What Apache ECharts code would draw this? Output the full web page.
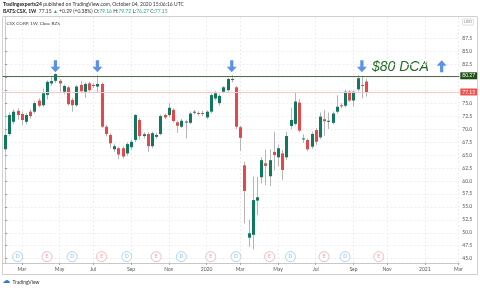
<!DOCTYPE html>
<html><head><meta charset="utf-8">
<script src="https://cdn.jsdelivr.net/npm/echarts@6/dist/echarts.min.js"></script>
<style>html,body{margin:0;padding:0;background:#fff}#c{width:480px;height:288px}</style>
</head><body><div id="c"></div>
<script>
// ---- data ----
const firstWeek = '2019-02-04';
const totalWeeks = 109; // axis runs through early March 2021
const opens = [66.1,69.05,71.4,73.5,72.9,71.4,73.35,73.35,75.5,74.6,76.6,78.8,79.3,79.3,77.2,78.05,75.6,74.6,78.5,77.2,78.8,78.5,78.2,78.7,70.45,68.85,66.1,66.3,66.3,65.3,66.5,67.9,71.75,68.65,69.05,66.7,68.5,69.05,72.7,72.7,73.7,71.3,70.45,71.3,71.2,73.15,73.1,73.1,72.25,73.35,75.9,75.0,77.2,77.5,79.45,78.05,70.35,63.0,49.05,49.6,56.2,60.7,63.4,60.9,65.6,64.55,65.3,64.55,70.6,71.0,75.1,68.0,67.9,66.6,69.8,68.4,71.9,71.4,71.2,73.35,74.6,74.5,77.2,75.5,77.65,78.5,79.16];
const closes = [68.85,72.7,73.35,72.7,71.75,72.7,72.5,75.0,74.5,76.9,79.1,79.25,80.6,78.8,78.3,74.8,74.6,78.2,77.3,78.7,77.5,78.3,78.7,70.45,69.05,67.25,66.7,65.1,64.7,67.1,67.55,72.7,68.65,69.0,66.7,69.2,68.85,72.5,72.25,74.1,71.55,70.65,71.6,71.45,73.0,73.35,72.9,72.95,73.35,76.55,76.9,76.4,78.05,79.65,79.65,70.45,68.3,58.05,49.9,56.3,56.85,64.0,62.9,64.0,65.0,66.3,62.1,68.65,71.75,75.3,69.7,68.2,66.1,69.05,67.55,72.4,71.5,71.6,73.0,74.3,74.4,77.2,75.5,77.2,79.8,78.3,77.15];
const lows = [65.6,68.7,70.9,71.8,70.8,70.9,72.0,73.0,74.2,74.3,75.7,78.3,78.9,77.2,76.7,74.5,73.35,74.3,77.0,76.0,77.2,77.9,77.0,70.2,68.6,66.3,65.6,64.2,64.3,64.8,66.0,67.5,68.0,68.2,65.6,66.3,68.1,68.8,71.9,72.3,71.2,69.3,70.2,68.2,70.9,72.8,72.6,72.5,71.9,73.0,75.5,74.5,76.9,77.2,79.0,70.0,65.8,51.8,47.3,46.8,53.4,59.5,59.2,59.0,62.0,62.8,60.2,64.0,70.0,70.7,69.4,67.3,65.7,66.2,66.9,68.1,68.7,70.0,70.9,73.0,74.0,74.2,75.2,74.3,77.3,75.9,76.27];
const highs = [69.2,73.2,73.8,74.0,73.4,73.1,73.8,75.4,75.9,77.8,79.4,80.0,80.75,79.6,78.6,78.3,76.0,78.5,79.3,79.0,79.1,78.8,80.4,79.0,70.8,69.2,67.2,66.6,66.7,67.4,68.0,72.9,72.1,69.4,69.4,69.5,69.3,72.8,73.0,75.0,74.0,71.6,72.0,71.8,73.4,73.7,73.4,73.5,73.6,76.9,77.3,76.8,78.3,79.9,80.4,78.3,70.6,63.7,52.5,60.8,60.8,64.6,66.0,66.1,69.5,67.0,66.0,69.5,74.1,77.0,75.8,69.0,68.2,69.5,70.2,73.2,73.7,73.2,73.4,76.5,75.0,77.6,77.5,77.4,80.4,80.3,79.72];
const priceTicks = [45,47.5,50,52.5,55,57.5,60,62.5,65,67.5,70,72.5,75,77.5,80,82.5,85,87.5];
const hiddenPriceLabels = [77.5,80]; // covered by the price tags
const monthNames = ['Jan','Feb','Mar','Apr','May','Jun','Jul','Aug','Sep','Oct','Nov','Dec'];
const dividendWeeks = [3,16,29,42,55,68,81];
const earningsWeeks = [10,23,36,49,63,76,89];
const arrowDownWeeks = [12,22,54,85];
const arrowUpWeeks = [104];
const arrowPrice = 82.1;
const dcaLevel = 80.27;
const lastClose = 77.15;

// ---- derived ----
const weeks = [];
{ const d0 = new Date(firstWeek + 'T00:00:00Z');
  for (let i = 0; i < totalWeeks; i++) weeks.push(new Date(d0.getTime() + i * 7 * 864e5)); }
const tickIdx = [], tickLab = {};
for (let i = 1; i < weeks.length; i++) {
  const m = weeks[i].getUTCMonth();
  if (m !== weeks[i-1].getUTCMonth() && m % 2 === 0) {
    tickIdx.push(i);
    tickLab[i] = m === 0 ? String(weeks[i].getUTCFullYear()) : monthNames[m];
  }
}
const candleData = opens.map((o, i) => [i, o, closes[i], lows[i], highs[i]]);
const labelTicks = priceTicks.filter(v => hiddenPriceLabels.indexOf(v) < 0);

const UP = '#10785e', DOWN = '#e5484a', WICK = '#b5b5b5', BLUE = '#2f77e2';
const Y_MIN = 44.17, Y_MAX = 91.61;
const markerPrice = Y_MIN + 1.22;
const arrowPath = 'path://M5,0 L10,5.5 L6.6,5.5 L6.6,12 L3.4,12 L3.4,5.5 L0,5.5 Z';

const chart = echarts.init(document.getElementById('c'), null, {renderer: 'canvas'});
const FONT = 'Lato, "Noto Sans", sans-serif';
const HF = 5.0;

chart.setOption({
  animation: false,
  backgroundColor: '#fff',
  grid: {left: 2.5, right: 20.7, top: 17, bottom: 25, containLabel: false},
  xAxis: {
    type: 'value', min: -0.6, max: totalWeeks - 0.8,
    axisLine: {show: true, lineStyle: {color: '#c8c8c8', width: 1}},
    axisTick: {show: true, customValues: tickIdx, length: 2, lineStyle: {color: '#aaa'}},
    axisLabel: {customValues: tickIdx, formatter: v => tickLab[v] || '', fontSize: 5, color: '#555', margin: 4, fontFamily: FONT},
    splitLine: {show: true, lineStyle: {color: '#ececec', type: [2, 2], width: 1}}
  },
  yAxis: {
    type: 'value', position: 'right', min: Y_MIN, max: Y_MAX, scale: true,
    axisLine: {show: true, lineStyle: {color: '#c8c8c8', width: 1}},
    axisTick: {show: true, customValues: priceTicks, length: 2, lineStyle: {color: '#999'}},
    axisLabel: {customValues: labelTicks, formatter: v => v.toFixed(1), fontSize: 5, color: '#555', margin: 3, fontFamily: FONT},
    splitLine: {show: true, lineStyle: {color: '#ececec', type: [2, 2], width: 1}}
  },
  series: [
    {
      type: 'custom', name: 'CSX', data: candleData, encode: {x: 0, y: [1, 2, 3, 4]}, clip: true,
      renderItem: function (params, api) {
        const i = api.value(0), o = api.value(1), c = api.value(2), l = api.value(3), h = api.value(4);
        const pO = api.coord([i, o]), pC = api.coord([i, c]), pL = api.coord([i, l]), pH = api.coord([i, h]);
        const w = Math.max(2, api.size([1, 0])[0] * 0.72);
        const cx = Math.round(pO[0]) + 0.5;
        const top = Math.min(pO[1], pC[1]), bot = Math.max(pO[1], pC[1]);
        const col = c >= o ? UP : DOWN;
        return {type: 'group', children: [
          {type: 'line', shape: {x1: cx, y1: pH[1], x2: cx, y2: pL[1]}, style: {stroke: WICK, lineWidth: 1}},
          {type: 'rect', shape: {x: cx - w / 2, y: top, width: w, height: Math.max(bot - top, 1)}, style: {fill: col}}
        ]};
      },
      markLine: {
        symbol: 'none', silent: true, animation: false,
        data: [
          {yAxis: dcaLevel, lineStyle: {color: '#4f6a45', width: 1, type: 'solid'},
           label: {position: 'end', distance: 1, formatter: p => p.value.toFixed(2), color: '#fff', fontSize: 5, fontFamily: FONT,
                   backgroundColor: '#1f4f17', padding: [1, 2, 1, 2]}},
          {yAxis: lastClose, lineStyle: {color: '#f5c6c6', width: 1, type: 'solid'},
           label: {position: 'end', distance: 1, formatter: p => p.value.toFixed(2), color: '#fff', fontSize: 5, fontFamily: FONT,
                   backgroundColor: '#ef5350', padding: [1, 2, 1, 2]}}
        ]
      }
    },
    {
      type: 'scatter', name: 'Dividends', data: dividendWeeks.map(w => [w, markerPrice]),
      symbol: 'circle', symbolSize: 10,
      itemStyle: {color: '#fff', borderColor: '#9cc8f2', borderWidth: 1},
      label: {show: true, formatter: 'D', position: 'inside', fontSize: 5, color: '#6aaae8', fontFamily: FONT}
    },
    {
      type: 'scatter', name: 'Earnings', data: earningsWeeks.map(w => [w, markerPrice]),
      symbol: 'circle', symbolSize: 10,
      itemStyle: {color: '#fff', borderColor: '#f2a9a9', borderWidth: 1},
      label: {show: true, formatter: 'E', position: 'inside', fontSize: 5, color: '#e98383', fontFamily: FONT}
    },
    {
      type: 'scatter', name: 'Down arrows', data: arrowDownWeeks.map(w => [w, arrowPrice]),
      symbol: arrowPath, symbolSize: [10, 12], symbolRotate: 180, itemStyle: {color: BLUE}
    },
    {
      type: 'scatter', name: 'Up arrows', data: arrowUpWeeks.map(w => [w, arrowPrice]),
      symbol: arrowPath, symbolSize: [10, 12], itemStyle: {color: BLUE}
    }
  ],
  graphic: [
    {type: 'rect', shape: {x: 2.5, y: 16.5, width: 475, height: 258}, style: {fill: 'none', stroke: '#d0d0d0', lineWidth: 1}, silent: true, z: 0},
    {type: 'text', x: 3, y: 1.5, style: {
      text: '{b|Tradingexperts24} published on TradingView.com, October 04, 2020 15:06:16 UTC',
      fontSize: HF, fill: '#333', fontFamily: FONT,
      rich: {b: {fontWeight: 'bold', fontSize: HF, fill: '#222', fontFamily: FONT}}}},
    {type: 'text', x: 3, y: 8.5, style: {
      text: '{b|BATS:CSX, 1W}  77.15 {g|▲} +0.29 (+0.38%) O:{t|79.16} H:{t|79.72} L:{t|76.27} C:{t|77.15}',
      fontSize: HF, fill: '#333', fontFamily: FONT,
      rich: {b: {fontWeight: 'bold', fontSize: HF, fill: '#222', fontFamily: FONT},
             g: {fontSize: HF, fill: '#26a69a', fontFamily: FONT},
             t: {fontSize: HF, fill: '#26a69a', fontFamily: FONT}}}},
    {type: 'text', x: 6.5, y: 21, style: {text: 'CSX CORP, 1W, Cboe BZX', fontSize: 4.6, fill: '#444', fontFamily: FONT}},
    {type: 'text', x: 372, y: 60, style: {text: '$80 DCA', fontSize: 14, fontStyle: 'italic', fill: '#1e6a22', fontFamily: '"Liberation Sans", sans-serif'}},
    {type: 'rect', shape: {x: 462.5, y: 19, width: 11, height: 6, r: 1}, style: {fill: '#fff', stroke: '#d5d5d5', lineWidth: 0.8}},
    {type: 'text', x: 468, y: 22, style: {text: 'USD', fontSize: 4, fill: '#888', align: 'center', verticalAlign: 'middle', fontFamily: FONT}},
    {type: 'text', x: 2.5, y: 276.5, style: {text: '☁', fontSize: 8, fill: '#2f77e2', fontFamily: '"DejaVu Sans"'}},
    {type: 'text', x: 12.5, y: 279.5, style: {text: 'TradingView', fontSize: 5, fill: '#333', fontFamily: FONT}}
  ]
});
</script></body></html>
